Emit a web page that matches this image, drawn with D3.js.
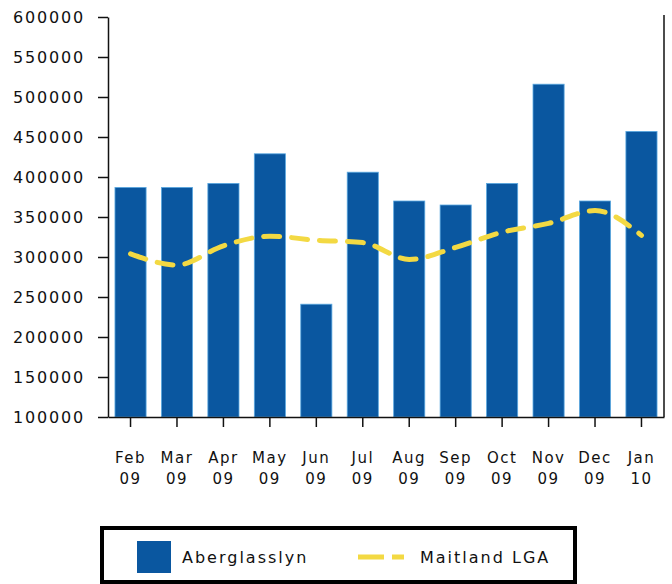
<!DOCTYPE html>
<html>
<head>
<meta charset="utf-8">
<script src="https://cdn.jsdelivr.net/npm/d3@7"></script>
<style>
  body { margin: 0; background: #fff; }
  text { font-family: "DejaVu Sans", Verdana, sans-serif; fill: #111; }
</style>
</head>
<body>
<div id="chart"></div>
<script>
const months = ["Feb", "Mar", "Apr", "May", "Jun", "Jul", "Aug", "Sep", "Oct", "Nov", "Dec", "Jan"];
const years = ["09", "09", "09", "09", "09", "09", "09", "09", "09", "09", "09", "10"];
const aberglasslyn = [387000, 387000, 392000, 429000, 241000, 406000, 370000, 365000, 392000, 516000, 370000, 457000];
const maitland = [304000, 290000, 314000, 326000, 321000, 318000, 297000, 312000, 331000, 342000, 358000, 327000];
const yTicks = [100000, 150000, 200000, 250000, 300000, 350000, 400000, 450000, 500000, 550000, 600000];

(function barline() {
  let width = 672,
      height = 584,
      margin = ({ top: 17, right: 8, bottom: 167, left: 108 });

  const svg = d3.select("#chart")
    .append("svg")
    .attr("width", width)
    .attr("height", height);

  let data = months.map((m, i) => ({ m, yr: years[i], a: aberglasslyn[i], l: maitland[i] }));

  let x = d3.scaleBand()
    .domain(months.map((m, i) => i))
    .range([margin.left, width - margin.right])
    .paddingInner(0.33)
    .paddingOuter(0.15);

  let y = d3.scaleLinear()
    .domain([100000, 600000])
    .range([height - margin.bottom, margin.top]);

  // bars
  svg.append("g")
    .selectAll("rect")
    .data(data)
    .join("rect")
    .attr("x", (d, i) => x(i))
    .attr("y", d => y(d.a))
    .attr("width", x.bandwidth())
    .attr("height", d => y(100000) - y(d.a))
    .attr("fill", "#0a57a0")
    .attr("stroke", "#5aa8e0")
    .attr("stroke-width", 0.8);

  // y axis
  let yAxis = svg.append("g")
    .attr("transform", `translate(${margin.left},0)`)
    .call(d3.axisLeft(y).tickValues(yTicks).tickSize(10).tickSizeOuter(0).tickPadding(13).tickFormat(d => d));
  yAxis.select(".domain").attr("stroke", "#111").attr("stroke-width", 1.5);
  yAxis.selectAll(".tick line").attr("stroke", "#111").attr("stroke-width", 1.5);
  yAxis.selectAll("text")
    .attr("fill", "#111")
    .style("font-size", "16px")
    .style("letter-spacing", "1.8px")
    .style("font-family", "'DejaVu Sans', Verdana, sans-serif");

  // right frame line
  svg.append("line")
    .attr("x1", width - margin.right).attr("x2", width - margin.right)
    .attr("y1", y(600000) - 2).attr("y2", y(100000))
    .attr("stroke", "#111").attr("stroke-width", 1.5);

  // x axis
  let xAxis = svg.append("g")
    .attr("transform", `translate(0,${y(100000)})`)
    .call(d3.axisBottom(x).tickSize(10).tickSizeOuter(0).tickFormat(""));
  xAxis.select(".domain").attr("stroke", "#111").attr("stroke-width", 1.5);
  xAxis.selectAll(".tick line").attr("stroke", "#111").attr("stroke-width", 1.5);

  let labels = svg.append("g");
  data.forEach((d, i) => {
    let cx = x(i) + x.bandwidth() / 2;
    let t = labels.append("text")
      .attr("text-anchor", "middle")
      .style("font-size", "15px")
      .style("letter-spacing", "1.5px");
    t.append("tspan").attr("x", cx).attr("y", 463).text(d.m);
    t.append("tspan").attr("x", cx).attr("y", 484).text(d.yr);
  });

  // Maitland LGA line
  let line = d3.line()
    .x((d, i) => x(i) + x.bandwidth() / 2)
    .y(d => y(d.l))
    .curve(d3.curveMonotoneX);

  svg.append("path")
    .datum(data)
    .attr("fill", "none")
    .attr("stroke", "#f3d943")
    .attr("stroke-width", 5)
    .attr("stroke-linecap", "round")
    .attr("stroke-dasharray", "16 12")
    .attr("d", line);

  // legend
  let lg = svg.append("g");
  lg.append("rect")
    .attr("x", 102).attr("y", 528)
    .attr("width", 473).attr("height", 54)
    .attr("fill", "#fff")
    .attr("stroke", "#000")
    .attr("stroke-width", 4);
  lg.append("rect")
    .attr("x", 137).attr("y", 541)
    .attr("width", 34).attr("height", 32)
    .attr("fill", "#0a57a0");
  lg.append("text")
    .attr("x", 182).attr("y", 563)
    .style("font-size", "16px")
    .style("letter-spacing", "2px")
    .text("Aberglasslyn");
  lg.append("line")
    .attr("x1", 358).attr("x2", 404)
    .attr("y1", 557).attr("y2", 557)
    .attr("stroke", "#f3d943")
    .attr("stroke-width", 5)
    .attr("stroke-dasharray", "26 8");
  lg.append("text")
    .attr("x", 420).attr("y", 563)
    .style("font-size", "16px")
    .style("letter-spacing", "2px")
    .text("Maitland LGA");
})();
</script>
</body>
</html>
